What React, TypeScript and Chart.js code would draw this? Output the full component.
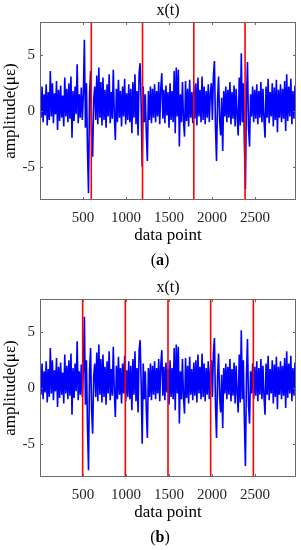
import React, { useEffect, useRef } from 'react';
import { Chart, registerables } from 'chart.js';
Chart.register(...registerables);

const STEP = 12;
const amplitude: number[] = [
  1.8, -0.6, 2.2, -1.0, 1.5, -0.4, 2.4, -1.3, 1.7, -0.8,
  3.6, -0.5, 2.5, -1.1, 1.6, -0.3, 2.7, -1.7, 1.9, -0.9,
  2.3, -0.6, 1.4, -1.4, 3.0, -0.5, 2.0, -1.0, 2.5, -0.7,
  3.1, -2.4, 1.8, -0.9, 2.2, -0.3, 4.2, -1.1, 1.5, -0.6,
  2.1, -0.8, 1.5, 6.4, -1.5, 2.5, -3.5, -7.4, 1.5, 3.6,
  -2.0, -4.1, 1.0, 2.2, -0.8, 3.2, -1.2, 3.9, -0.6, 2.6,
  -1.3, 3.0, -0.8, 1.9, -1.5, 2.4, -0.5, 3.3, -1.1, 1.7,
  -0.7, 3.7, -0.4, -2.6, 2.0, -1.0, 2.8, -0.6, 1.8, -1.4,
  2.2, -0.5, 2.9, -1.2, 1.6, -0.8, 2.4, -1.0, 2.0, -2.0,
  2.6, -0.6, 3.3, -1.2, 1.8, -2.2, 3.4, 4.3, 0.5, -5.0,
  2.2, -1.0, 1.5, -2.0, -4.5, 1.8, -0.8, 2.2, -1.1, 2.0,
  -0.6, 2.4, -1.0, 1.8, -0.5, 2.6, -1.2, 2.0, 3.4, -0.7,
  1.9, -1.1, 2.3, -0.4, 1.7, -1.5, 2.5, -0.8, 1.8, -1.0,
  3.6, -2.0, 3.9, -0.5, 3.7, -3.2, 1.5, -1.0, 2.6, -0.8,
  -2.3, 2.7, -0.9, 2.0, -1.4, 2.8, -0.6, 1.7, -1.1, 2.3,
  -0.7, 2.5, -1.3, 3.0, -0.5, 1.9, -1.0, 3.1, -0.8, 2.2,
  -1.2, 1.8, -0.6, 2.4, -1.0, 1.6, 2.5, -0.8, 3.2, 4.5,
  -1.5, -4.5, 1.0, 3.1, -0.8, -2.2, 1.2, -3.6, 1.8, -0.5,
  2.2, -1.0, 1.9, -0.6, 2.6, -1.2, 1.7, -0.7, 2.3, -1.4,
  2.0, -0.5, -2.2, 3.0, -1.3, 5.2, -1.0, 2.5, -3.0, -7.0,
  1.0, 4.4, -1.5, -3.2, 1.5, -0.5, 2.2, -1.0, 1.9, -0.7,
  2.4, -1.2, 1.8, -0.6, 2.6, -1.0, 2.0, -0.8, -2.4, 2.2,
  -0.6, 2.9, -1.1, 1.7, -0.5, 2.5, -1.4, 2.1, -0.8, 2.8,
  -1.9, 1.9, -0.6, 2.4, -1.0, 2.0, -0.7, 2.7, -1.8, 3.3,
  -0.9, 2.2, -0.5, 2.9, -1.2, 1.8, -0.7, 2.3, -0.6,
];

const xMin = 0;
const xMax = 2976;
const yMin = -8;
const yMax = 8;
const xTicks = [500, 1000, 1500, 2000, 2500];
const yTicks = [-5, 0, 5];
const splitsA = [596, 1192, 1788, 2384];
const splitsB = [496, 992, 1488, 1984, 2480];

const titleText = 'x(t)';
const xLabel = 'data point';
const yLabel = 'amplitude(με)';

const SERIF = '"Liberation Serif", "Times New Roman", serif';

function makeOverlay(caption: string) {
  return {
    id: 'matlabOverlay',
    afterDatasetsDraw(chart: any) {
      const { ctx, chartArea: a, scales } = chart;
      ctx.save();
      // box
      ctx.strokeStyle = '#6a6a6a';
      ctx.lineWidth = 1;
      ctx.strokeRect(a.left + 0.5, a.top + 0.5, a.right - a.left - 1, a.bottom - a.top - 1);
      // inward ticks
      ctx.beginPath();
      xTicks.forEach((v) => {
        const px = Math.round(scales.x.getPixelForValue(v)) + 0.5;
        ctx.moveTo(px, a.bottom);
        ctx.lineTo(px, a.bottom - 3);
        ctx.moveTo(px, a.top);
        ctx.lineTo(px, a.top + 3);
      });
      yTicks.forEach((v) => {
        const py = Math.round(scales.y.getPixelForValue(v)) + 0.5;
        ctx.moveTo(a.left, py);
        ctx.lineTo(a.left + 3, py);
        ctx.moveTo(a.right, py);
        ctx.lineTo(a.right - 3, py);
      });
      ctx.stroke();

      ctx.fillStyle = '#000';
      // title
      ctx.font = `16px ${SERIF}`;
      ctx.textAlign = 'center';
      ctx.textBaseline = 'alphabetic';
      ctx.fillText(titleText, (a.left + a.right) / 2, a.top - 7);
      // x label
      ctx.font = `17px ${SERIF}`;
      ctx.fillText(xLabel, (a.left + a.right) / 2, a.bottom + 40);
      // y label
      ctx.save();
      ctx.translate(15, (a.top + a.bottom) / 2);
      ctx.rotate(-Math.PI / 2);
      ctx.fillText(yLabel, 0, 0);
      ctx.restore();
      // caption "(a)" with bold letter
      const capY = a.bottom + 65;
      ctx.textAlign = 'left';
      ctx.font = `16px ${SERIF}`;
      const wl = ctx.measureText('(').width;
      const wr = ctx.measureText(')').width;
      ctx.font = `bold 16px ${SERIF}`;
      const wm = ctx.measureText(caption).width;
      const total = wl + wm + wr;
      const x0 = 160 - total / 2;
      ctx.font = `16px ${SERIF}`;
      ctx.fillText('(', x0, capY);
      ctx.font = `bold 16px ${SERIF}`;
      ctx.fillText(caption, x0 + wl, capY);
      ctx.font = `16px ${SERIF}`;
      ctx.fillText(')', x0 + wl + wm, capY);
      ctx.restore();
    },
  };
}

function Panel({ splits, top, height, caption }: { splits: number[]; top: number; height: number; caption: string }) {
  const ref = useRef<HTMLCanvasElement>(null);
  useEffect(() => {
    const signal = amplitude.map((y, i) => ({ x: i * STEP, y }));
    const redSets = splits.map((s) => ({
      data: [
        { x: s, y: yMin },
        { x: s, y: yMax },
      ],
      borderColor: '#ff0000',
      borderWidth: 1.6,
      pointRadius: 0,
      order: 0,
      clip: 0,
    }));
    const chart = new Chart(ref.current!, {
      type: 'line',
      data: {
        datasets: [
          ...redSets,
          {
            data: signal,
            borderColor: '#0000ff',
            borderWidth: 1.6,
            pointRadius: 0,
            tension: 0,
            order: 1,
          },
        ] as any,
      },
      options: {
        responsive: false,
        animation: false,
        events: [],
        layout: { padding: { left: 0, right: 5, top: 22, bottom: 0 } },
        plugins: { legend: { display: false }, tooltip: { enabled: false }, title: { display: false } },
        scales: {
          x: {
            type: 'linear',
            min: xMin,
            max: xMax,
            grid: { display: false, drawTicks: false },
            border: { display: false },
            afterBuildTicks: (s: any) => {
              s.ticks = xTicks.map((v) => ({ value: v }));
            },
            afterFit: (s: any) => {
              s.height = height - 200;
            },
            ticks: {
              maxRotation: 0,
              autoSkip: false,
              padding: 9,
              color: '#262626',
              font: { family: SERIF, size: 15 },
              callback: (v: any) => String(v),
            },
          },
          y: {
            type: 'linear',
            min: yMin,
            max: yMax,
            grid: { display: false, drawTicks: false },
            border: { display: false },
            afterBuildTicks: (s: any) => {
              s.ticks = yTicks.map((v) => ({ value: v }));
            },
            afterFit: (s: any) => {
              s.width = 40;
            },
            ticks: {
              padding: 5,
              color: '#262626',
              font: { family: SERIF, size: 15 },
              callback: (v: any) => String(v),
            },
          },
        },
      } as any,
      plugins: [makeOverlay(caption)],
    });
    return () => chart.destroy();
  }, []);
  return (
    <canvas
      ref={ref}
      width={301}
      height={height}
      style={{ position: 'absolute', left: 0, top, width: 301, height, display: 'block' }}
    />
  );
}

export default function App() {
  return (
    <div style={{ position: 'absolute', left: 0, top: 0, width: 301, height: 550, overflow: 'hidden', background: '#fff' }}>
      <Panel splits={splitsA} top={0} height={277} caption="a" />
      <Panel splits={splitsB} top={277} height={273} caption="b" />
    </div>
  );
}
